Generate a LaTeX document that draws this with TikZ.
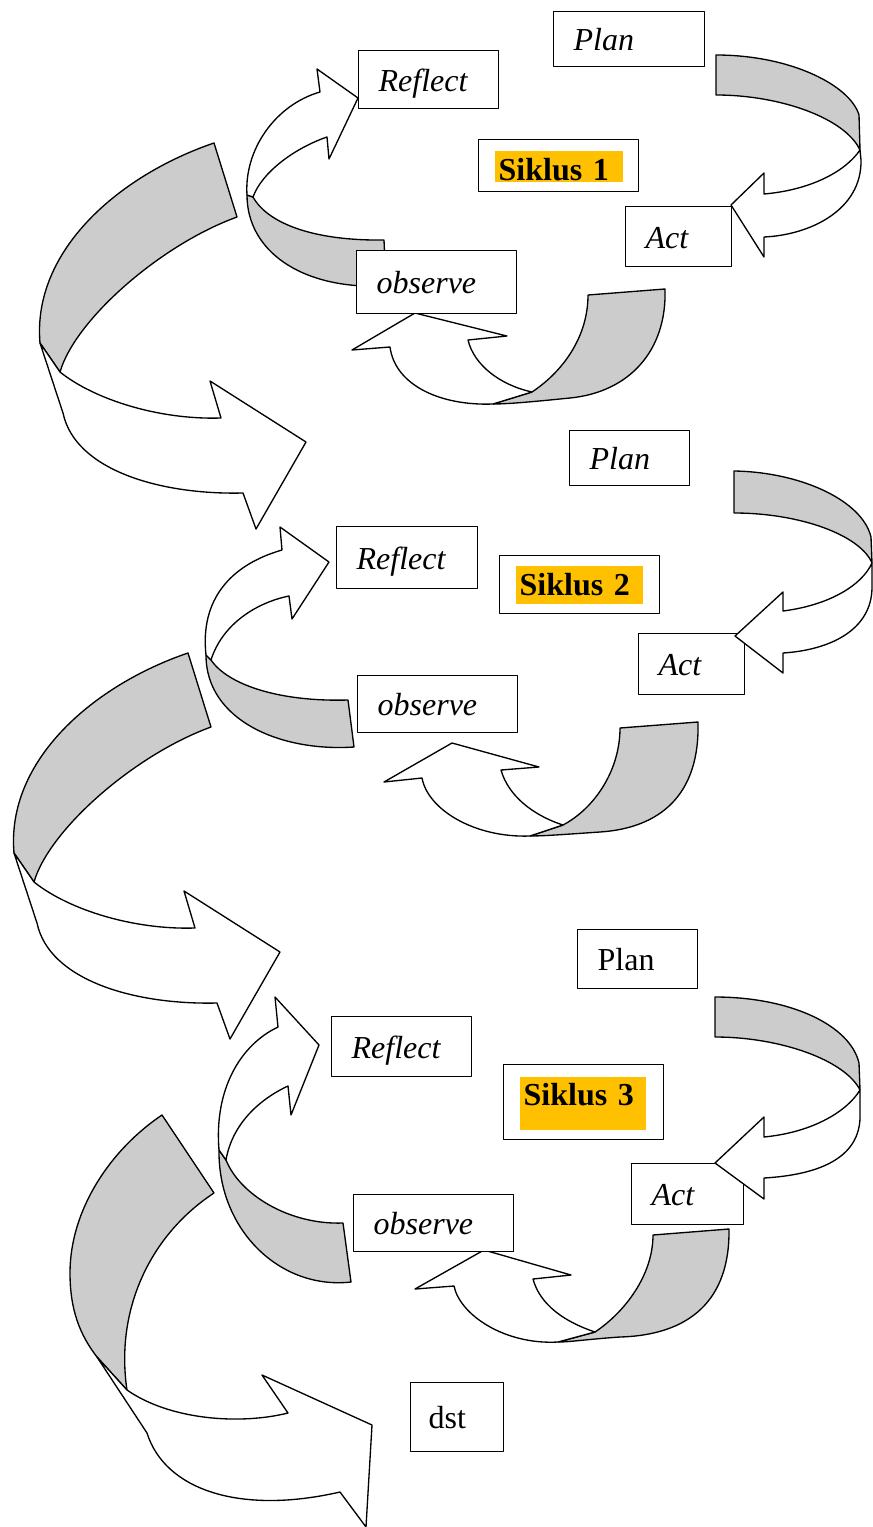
\documentclass[tikz,border=0pt]{standalone}
\usepackage{fontspec}
\setmainfont{Liberation Serif}
\usepackage{tikz}
\definecolor{ribbongray}{HTML}{CCCCCC}
\definecolor{siklusgold}{HTML}{FFC000}

\begin{document}
\begin{tikzpicture}[x=0.75pt, y=-0.75pt, line width=1pt, line join=round]
	\tikzstyle{every node}=[font=\fontsize{24}{28}\selectfont]
	\tikzstyle{back}=[fill=ribbongray]
	\tikzstyle{front}=[fill=white]
	\tikzstyle{stage}=[draw, fill=white, anchor=north west, inner xsep=15pt, inner ysep=0pt, align=left, text height=17pt, text depth=0pt, font=\fontsize{24}{28}\selectfont\itshape]
	\tikzstyle{roman}=[font=\fontsize{24}{28}\selectfont]
	\tikzstyle{siklusbox}=[draw, fill=white, anchor=north west, inner sep=0pt, minimum width=120pt]
	\tikzstyle{siklustext}=[fill=siklusgold, anchor=north west, inner xsep=3pt, inner ysep=0pt, align=left, text height=16.5pt, text depth=0pt, font=\fontsize{24}{28}\selectfont\bfseries]
		\useasboundingbox (0,0) rectangle (873,1527);
		\filldraw [back] (214,143) -- (237,217) .. controls (160,245) and (75,320) .. (60,372) -- (40,343) .. controls (32,250) and (120,175) .. (214,143) -- cycle;
		\filldraw [front] (60,372) -- (40,343) -- (63,413) .. controls (75,470) and (160,495) .. (243,493) -- (256,529) -- (306,442) -- (210,381) -- (221,418) .. controls (160,420) and (95,400) .. (60,372) -- cycle;
		\filldraw [back, shift={(-26,510)}] (214,143) -- (237,217) .. controls (160,245) and (75,320) .. (60,372) -- (40,343) .. controls (32,250) and (120,175) .. (214,143) -- cycle;
		\filldraw [front, shift={(-26,510)}] (60,372) -- (40,343) -- (63,413) .. controls (75,470) and (160,495) .. (243,493) -- (256,529) -- (306,442) -- (210,381) -- (221,418) .. controls (160,420) and (95,400) .. (60,372) -- cycle;
		\filldraw [back] (162,1115) -- (214,1193) .. controls (150,1235) and (115,1310) .. (127,1390) -- (97,1357) .. controls (80,1335) and (70,1310) .. (70,1273) .. controls (70,1210) and (110,1150) .. (162,1115) -- cycle;
		\filldraw [front] (127,1390) -- (97,1357) -- (147,1433) .. controls (165,1490) and (240,1515) .. (340,1492) -- (366,1527) -- (372,1425) -- (262,1375) -- (288,1413) .. controls (240,1425) and (170,1420) .. (127,1390) -- cycle;
		\filldraw [back] (253,197) .. controls (268,224) and (315,241) .. (384,240) -- (386,286) .. controls (300,290) and (247,250) .. (247,195) -- cycle;
		\filldraw [front] (247,195) .. controls (244,150) and (275,105) .. (320,92) -- (317,69) -- (358,98) -- (329,159) -- (327,137) .. controls (295,148) and (262,172) .. (253,197) -- cycle;
		\filldraw [back] (211,660) .. controls (228,685) and (280,702) .. (348,700) -- (354,747) .. controls (280,752) and (206,720) .. (206,655) -- cycle;
		\filldraw [front] (206,655) .. controls (200,600) and (230,565) .. (282,550) -- (280,527) -- (329,562) -- (292,619) -- (289,596) .. controls (255,603) and (222,625) .. (211,660) -- cycle;
		\filldraw [back] (226,1160) .. controls (240,1195) and (290,1225) .. (343,1223) -- (351,1282) .. controls (280,1290) and (218,1230) .. (219,1150) -- cycle;
		\filldraw [front] (219,1150) .. controls (214,1090) and (240,1045) .. (278,1027) -- (275,997) -- (319,1045) -- (291,1115) -- (288,1086) .. controls (258,1100) and (232,1125) .. (226,1160) -- cycle;
		\filldraw [back] (588,295) -- (665,289) .. controls (667,350) and (630,392) .. (570,398) .. controls (540,401) and (510,404) .. (493,404) -- (532,392) .. controls (565,370) and (588,335) .. (588,295) -- cycle;
		\filldraw [front] (493,404) .. controls (440,406) and (395,385) .. (390,347) -- (352,350) -- (415,313) -- (507,336) -- (468,340) .. controls (474,365) and (500,385) .. (532,392) -- cycle;
		\filldraw [back] (620,728) -- (698,722) .. controls (700,795) and (660,828) .. (600,832) .. controls (570,834) and (545,836) .. (530,836) -- (563,825) .. controls (595,808) and (620,770) .. (620,728) -- cycle;
		\filldraw [front] (530,836) .. controls (475,838) and (428,810) .. (422,778) -- (384,782) -- (452,743) -- (539,767) -- (501,770) .. controls (508,795) and (532,815) .. (563,825) -- cycle;
		\filldraw [back] (653,1235) -- (729,1229) .. controls (730,1300) and (690,1335) .. (620,1337) .. controls (590,1339) and (570,1342) .. (558,1342) -- (595,1332) .. controls (625,1312) and (653,1275) .. (653,1235) -- cycle;
		\filldraw [front] (558,1342) .. controls (505,1345) and (460,1315) .. (454,1286) -- (415,1289) -- (484,1250) -- (571,1275) -- (533,1279) .. controls (540,1305) and (565,1322) .. (595,1332) -- cycle;
		\node [stage, text width=83.25pt, minimum height=41.25pt] (plan1) at (553,11) {Plan};
		\node [stage, text width=75pt, minimum height=43.5pt] (reflect1) at (358,50) {Reflect};
		\node [siklusbox, minimum height=39pt] (siklus1) at (478,139) {};
		\node [siklustext, text width=90pt, minimum height=23.25pt, text height=21.75pt] (label1) at (494,150) {Siklus 1};
		\node [stage, text width=49.5pt, minimum height=45pt] (act1) at (625,206) {Act};
		\node [stage, text width=90pt, minimum height=47.25pt] (observe1) at (356,250) {observe};
		\node [stage, text width=60pt, minimum height=41.25pt] (plan2) at (569,430) {Plan};
		\node [stage, text width=75.75pt, minimum height=46.5pt] (reflect2) at (336,526) {Reflect};
		\node [siklusbox, minimum height=43.5pt] (siklus2) at (499,555) {};
		\node [siklustext, text width=89.25pt, minimum height=28.5pt] (label2) at (515,565) {Siklus 2};
		\node [stage, text width=49.5pt, minimum height=45.75pt] (act2) at (638,633) {Act};
		\node [stage, text width=90pt, minimum height=42.75pt] (observe2) at (357,675) {observe};
		\node [stage, roman, text width=60pt, minimum height=44.25pt] (plan3) at (577,929) {Plan};
		\node [stage, text width=75pt, minimum height=45pt] (reflect3) at (331,1016) {Reflect};
		\node [siklusbox, minimum height=56.25pt] (siklus3) at (503,1064) {};
		\node [siklustext, text width=88.5pt, minimum height=39.75pt, text height=17pt, text depth=13pt] (label3) at (519,1076) {Siklus 3};
		\node [stage, text width=54pt, minimum height=45.75pt] (act3) at (631,1163) {Act};
		\node [stage, text width=90pt, minimum height=42.75pt] (observe3) at (353,1194) {observe};
		\node [stage, roman, inner xsep=13.5pt, text width=42.75pt, minimum height=51.75pt] (dst) at (410,1382) {dst};
		\filldraw [back] (716,55) .. controls (790,55) and (850,85) .. (859,115) -- (860,150) .. controls (845,118) and (780,95) .. (716,95) -- cycle;
		\filldraw [front] (860,150) -- (861,160) .. controls (862,210) and (810,235) .. (764,237) -- (764,257) -- (731,205) -- (764,173) -- (764,194) .. controls (810,190) and (845,172) .. (860,150) -- cycle;
		\filldraw [back] (734,471) .. controls (800,472) and (862,500) .. (871,537) -- (872,563) .. controls (860,535) and (800,513) .. (734,513) -- cycle;
		\filldraw [front] (872,563) -- (872,587) .. controls (872,630) and (830,650) .. (783,653) -- (783,673) -- (735,636) -- (783,592) -- (783,611) .. controls (830,605) and (862,585) .. (872,563) -- cycle;
		\filldraw [back] (715,997) .. controls (790,997) and (850,1025) .. (859,1063) -- (860,1090) .. controls (845,1060) and (780,1037) .. (715,1037) -- cycle;
		\filldraw [front] (860,1090) -- (860,1113) .. controls (862,1160) and (815,1175) .. (764,1178) -- (764,1199) -- (715,1163) -- (764,1117) -- (764,1137) .. controls (815,1132) and (848,1110) .. (860,1090) -- cycle;
	\end{tikzpicture}
\end{document}
